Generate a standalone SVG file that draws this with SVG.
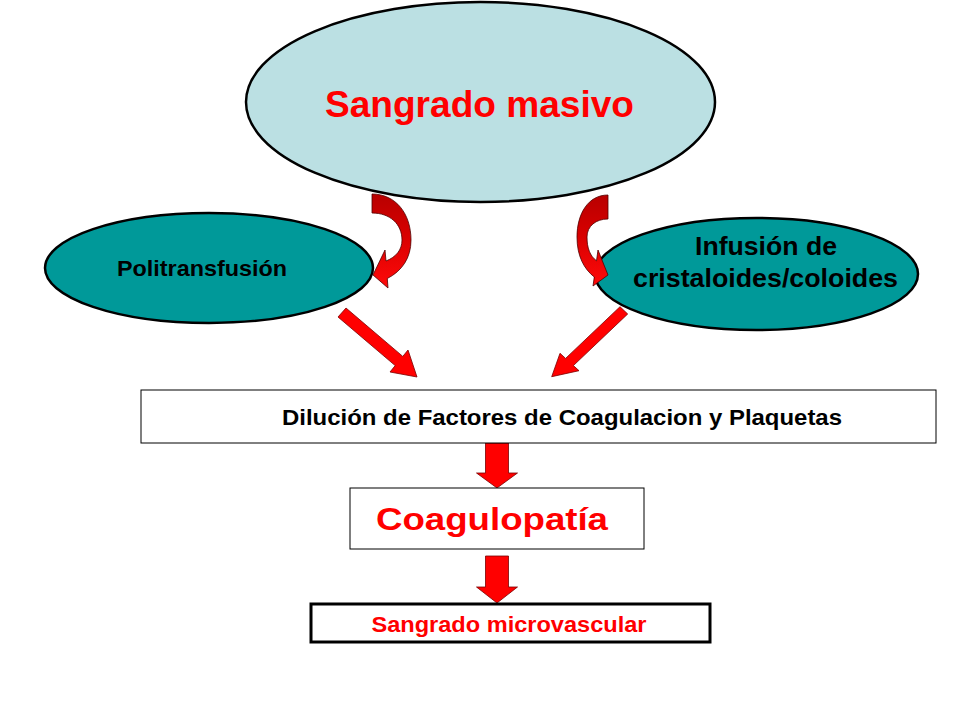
<svg xmlns="http://www.w3.org/2000/svg" width="960" height="720" viewBox="0 0 960 720">
<defs>
<linearGradient id="curveGrad" x1="0" y1="0" x2="0" y2="1">
<stop offset="0" stop-color="#b80000"/>
<stop offset="0.45" stop-color="#d80000"/>
<stop offset="1" stop-color="#ff0a0a"/>
</linearGradient>
<style>
.ell{stroke:#000;stroke-width:2.5}
.teal{fill:#009999}
.big{fill:#bbe0e3}
.box{fill:#fff;stroke:#000;stroke-width:1}
.boxthick{fill:#fff;stroke:#000;stroke-width:3}
.arrow{fill:#ff0000;stroke:#7a0000;stroke-width:0.8;stroke-linejoin:miter}
.curve{fill:url(#curveGrad);stroke:#500000;stroke-width:0.8}
.t{font-family:"Liberation Sans",Arial,sans-serif;font-weight:bold;text-anchor:middle}
.red{fill:#ff0000}
.blk{fill:#000}
</style>
</defs>
<rect x="0" y="0" width="960" height="720" fill="#fff"/>

<g id="politransfusion">
<ellipse class="ell teal" cx="209" cy="268" rx="164" ry="55"/>
<text class="t blk" x="202" y="276" font-size="22" textLength="170" lengthAdjust="spacingAndGlyphs">Politransfusión</text>
</g>

<g id="infusion">
<ellipse class="ell teal" cx="756.5" cy="274" rx="161.5" ry="56"/>
<text class="t blk" x="766" y="255" font-size="25.5" textLength="142" lengthAdjust="spacingAndGlyphs">Infusión de</text>
<text class="t blk" x="765.5" y="287" font-size="25.5" textLength="265" lengthAdjust="spacingAndGlyphs">cristaloides/coloides</text>
</g>

<g id="connectors">
<path class="curve" d="M372,194 C396,194 411,214 411,240 C411,258 402,271 387.3,278.5 L388,288 L373,275 L385,250 L386,261 C396,257 402,250 402,240 C402,224 390,213 372,213 Z"/>
<path class="curve" d="M608,195 C588,195 577,214 577,237 C577,256 584,269 594.3,277 L593,286 L608,275 L598,250 L596.5,260.8 C590,256 587,248 587,237 C587,226 596,219 608,219 Z"/>
<polygon class="arrow" points="346,308 402.8,356.4 408,350 417,377 390,372 395.2,365.6 338,317"/>
<polygon class="arrow" points="620,306.7 627.7,314 573.4,365.6 579,370.7 551.7,376.7 560,353.3 565.6,358.4"/>
<polygon class="arrow" points="485.5,443 508.5,443 508.5,473 517.5,473 497,488 476.5,473 485.5,473"/>
<polygon class="arrow" points="485.5,556 508.5,556 508.5,587 517.5,587 497,603 476.5,587 485.5,587"/>
</g>

<g id="sangrado-masivo">
<ellipse class="ell big" cx="480.5" cy="102" rx="234.5" ry="100"/>
<text class="t red" x="479.5" y="117" font-size="37" textLength="309" lengthAdjust="spacingAndGlyphs">Sangrado masivo</text>
</g>

<g id="dilucion">
<rect class="box" x="141" y="390" width="795" height="53"/>
<text class="t blk" x="562" y="425" font-size="21.5" textLength="560" lengthAdjust="spacingAndGlyphs">Dilución de Factores de Coagulacion y Plaquetas</text>
</g>

<g id="coagulopatia">
<rect class="box" x="350" y="488" width="294" height="61"/>
<text class="t red" x="492" y="530" font-size="31" textLength="232" lengthAdjust="spacingAndGlyphs">Coagulopatía</text>
</g>

<g id="sangrado-microvascular">
<rect class="boxthick" x="311" y="604" width="399" height="38"/>
<text class="t red" x="509" y="632" font-size="22" textLength="275" lengthAdjust="spacingAndGlyphs">Sangrado microvascular</text>
</g>
</svg>
